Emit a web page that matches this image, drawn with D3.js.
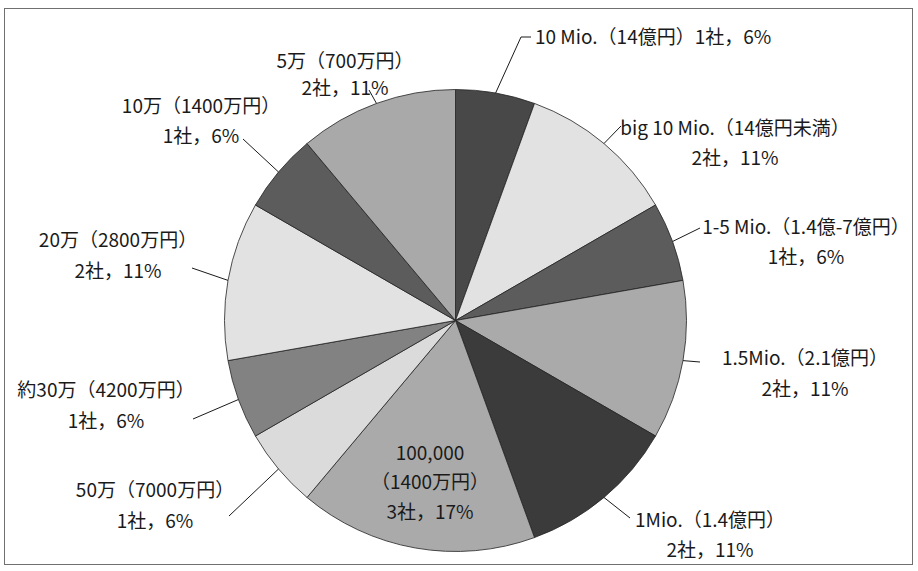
<!DOCTYPE html>
<html>
<head>
<meta charset="utf-8">
<script src="https://cdn.jsdelivr.net/npm/d3@7/dist/d3.min.js"></script>
<style>
  html, body { margin: 0; padding: 0; background: #fff; }
  svg text { font-family: "Noto Sans CJK JP", "Noto Sans", sans-serif; fill: #1a1a1a; }
</style>
</head>
<body>
<svg id="chart" width="918" height="571"></svg>
<script>
// Companies by size class (clockwise from 12 o'clock)
const categories = [
  "10 Mio.（14億円）",
  "big 10 Mio.（14億円未満）",
  "1-5 Mio.（1.4億-7億円）",
  "1.5Mio.（2.1億円）",
  "1Mio.（1.4億円）",
  "100,000 （1400万円）",
  "50万（7000万円）",
  "約30万（4200万円）",
  "20万（2800万円）",
  "10万（1400万円）",
  "5万（700万円）"
];
const companies = [1, 2, 1, 2, 2, 3, 1, 1, 2, 1, 2];
const percents  = [6, 11, 6, 11, 11, 17, 6, 6, 11, 6, 11];

// Label text lines per slice
const labelLines = [
  ["10 Mio.（14億円）1社，6%"],
  ["big 10 Mio.（14億円未満）", "2社，11%"],
  ["1-5 Mio.（1.4億-7億円）", "1社，6%"],
  ["1.5Mio.（2.1億円）", "2社，11%"],
  ["1Mio.（1.4億円）", "2社，11%"],
  ["100,000", "（1400万円）", "3社，17%"],
  ["50万（7000万円）", "1社，6%"],
  ["約30万（4200万円）", "1社，6%"],
  ["20万（2800万円）", "2社，11%"],
  ["10万（1400万円）", "1社，6%"],
  ["5万（700万円）", "2社，11%"]
];

// Dithered grey fills: [dark dot, light dot]
const fills = [
  ["#1c1c1c", "#747474"],
  ["#c4c4c4", "#ffffff"],
  ["#2e2e2e", "#8a8a8a"],
  ["#727272", "#e2e2e2"],
  ["#121212", "#646464"],
  ["#7a7a7a", "#dadada"],
  ["#bcbcbc", "#fafafa"],
  ["#4c4c4c", "#b8b8b8"],
  ["#c4c4c4", "#ffffff"],
  ["#2e2e2e", "#8a8a8a"],
  ["#747474", "#dedede"]
];

// Label layout: text anchor point, anchor type, line step, leader end (null = no leader)
const labelLayout = [
  { x: 535, y: 37,  anchor: "start",  step: 30, lead: [[521, 37], [531, 37]] },
  { x: 735, y: 128, anchor: "middle", step: 30, lead: [[621, 126]] },
  { x: 806, y: 227, anchor: "middle", step: 30, lead: [[700, 228]] },
  { x: 805, y: 358, anchor: "middle", step: 31, lead: [[700, 362]] },
  { x: 710, y: 520, anchor: "middle", step: 30, lead: [[630, 518]] },
  { x: 430, y: 453, anchor: "middle", step: 29.5, lead: null },
  { x: 155, y: 490, anchor: "middle", step: 31, lead: [[229, 516]] },
  { x: 106, y: 390, anchor: "middle", step: 31, lead: [[193, 419]] },
  { x: 118, y: 240, anchor: "middle", step: 31, lead: [[192, 268]] },
  { x: 201, y: 106, anchor: "middle", step: 30, lead: [[243, 139]] },
  { x: 345, y: 61,  anchor: "middle", step: 27, lead: [[369, 90]] }
];

const svg = d3.select("#chart");
const cx = 455.5, cy = 320.5, R = 231;

// Chart frame
svg.append("rect")
  .attr("x", 4.5).attr("y", 8.5)
  .attr("width", 908).attr("height", 556)
  .attr("fill", "#fff").attr("stroke", "#707070").attr("stroke-width", 1);

// Checkerboard patterns
const defs = svg.append("defs");
fills.forEach((f, i) => {
  const p = defs.append("pattern")
    .attr("id", "pat" + i)
    .attr("patternUnits", "userSpaceOnUse")
    .attr("width", 2).attr("height", 2);
  p.append("rect").attr("width", 2).attr("height", 2).attr("fill", f[1]);
  p.append("rect").attr("x", 0).attr("y", 0).attr("width", 1).attr("height", 1).attr("fill", f[0]);
  p.append("rect").attr("x", 1).attr("y", 1).attr("width", 1).attr("height", 1).attr("fill", f[0]);
});

const data = categories.map((c, i) => ({ cat: c, n: companies[i], pct: percents[i], i }));

const pie = d3.pie().value(d => d.n).sort(null);
const arcs = pie(data);
const arc = d3.arc().innerRadius(0).outerRadius(R);

const g = svg.append("g").attr("transform", `translate(${cx},${cy})`);
g.selectAll("path.slice")
  .data(arcs)
  .join("path")
  .attr("class", "slice")
  .attr("d", arc)
  .attr("fill", d => `url(#pat${d.data.i})`)
  .attr("stroke", "#222")
  .attr("stroke-width", 0.8);

// Leader lines from slice edge midpoint
arcs.forEach((a, k) => {
  const L = labelLayout[k];
  if (!L.lead) return;
  const mid = (a.startAngle + a.endAngle) / 2;
  const start = [cx + R * Math.sin(mid), cy - R * Math.cos(mid)];
  svg.append("path")
    .attr("d", d3.line()([start, ...L.lead]))
    .attr("fill", "none")
    .attr("stroke", "#1a1a1a")
    .attr("stroke-width", 1);
});

// Labels
arcs.forEach((a, k) => {
  const L = labelLayout[k];
  const t = svg.append("text")
    .attr("text-anchor", L.anchor)
    .attr("font-size", 19);
  labelLines[k].forEach((s, j) => {
    t.append("tspan")
      .attr("x", L.x)
      .attr("y", L.y + j * L.step)
      .attr("dy", "0.35em")
      .text(s);
  });
});
</script>
</body>
</html>
